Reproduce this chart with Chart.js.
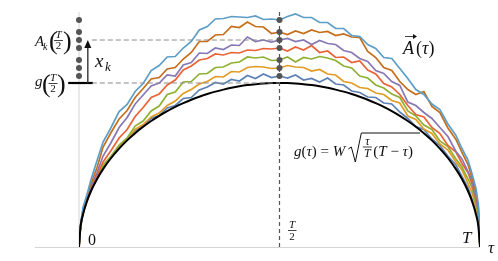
<!DOCTYPE html>
<html>
<head>
<meta charset="utf-8">
<script src="https://cdn.jsdelivr.net/npm/chart.js@4.4.1/dist/chart.umd.min.js"></script>
<style>
  html, body { margin: 0; padding: 0; background: #fff; }
  #wrap { width: 498px; height: 261px; }
</style>
</head>
<body>
<div id="wrap"><canvas id="myChart" width="498" height="261"></canvas></div>
<script>
// tau grid (T = 1)
const tau = [0, 0.004, 0.01, 0.02, 0.03, 0.045, 0.06, 0.08, 0.1, 0.12,
  0.14, 0.16, 0.18, 0.2, 0.22, 0.24, 0.26, 0.28, 0.3, 0.32,
  0.34, 0.36, 0.38, 0.4, 0.42, 0.44, 0.46, 0.48, 0.5, 0.52,
  0.54, 0.56, 0.58, 0.6, 0.62, 0.64, 0.66, 0.68, 0.7, 0.72,
  0.74, 0.76, 0.78, 0.8, 0.82, 0.84, 0.86, 0.88, 0.9, 0.92,
  0.94, 0.955, 0.97, 0.98, 0.99, 0.996, 1];

// lower boundary g(tau)
const gCurve = [0, 20.7, 32.6, 45.9, 56.0, 68.0, 77.9, 89.0, 98.4, 106.6,
  113.8, 120.2, 126.0, 131.2, 135.9, 140.1, 143.9, 147.3, 150.3, 153.0,
  155.4, 157.4, 159.2, 160.7, 161.9, 162.8, 163.5, 163.9, 164, 163.9,
  163.5, 162.8, 161.9, 160.7, 159.2, 157.4, 155.4, 153.0, 150.3, 147.3,
  143.9, 140.1, 135.9, 131.2, 126.0, 120.2, 113.8, 106.6, 98.4, 89.0,
  77.9, 68.0, 56.0, 45.9, 32.6, 20.7, 0];

// the seven walks A_k(tau), bottom to top
const walkBlue = [0, 21, 33.5, 46, 57, 68, 79.5, 89, 100, 107,
  116, 121, 128.5, 131.5, 139, 141.5, 148.5, 149.5, 157, 160,
  164.5, 163, 167.5, 166, 171.5, 168.5, 173, 169.5, 171, 169,
  172, 167, 168.5, 165, 169, 163, 162, 156, 154.5, 150,
  149.5, 144, 143, 135, 128.5, 120.5, 117.5, 108, 101.5, 91,
  82, 70.5, 59.5, 48, 35.5, 23, 0];
const walkOrange = [0, 21, 34, 46.5, 58, 69, 80.5, 90, 101, 108,
  117.5, 122.5, 130, 134, 141.5, 146, 153.5, 157.5, 163, 165.5,
  170.5, 170, 175.5, 175, 179.5, 180.5, 180, 178.5, 179, 181.5,
  180, 179.5, 176, 177.5, 173, 172, 165.5, 164, 159.5, 158.5,
  154, 152.5, 146.5, 144, 131, 127.5, 118, 113.5, 103, 97,
  85, 77, 63.5, 54.5, 40, 27, 0];
const walkGreen = [0, 21, 34.5, 47.5, 58.5, 70.5, 82, 91, 102, 109,
  121, 126, 136, 141, 152.5, 155, 165, 165.5, 173, 173.5,
  179.5, 180, 184, 185, 190, 189, 190, 186.5, 187, 190,
  185, 189.5, 188, 190.5, 189, 186.5, 181, 179, 171, 169,
  162, 159, 153, 149.5, 136, 131, 122, 117.5, 106, 100.5,
  88, 80, 68, 59.5, 43.5, 31, 0];
const walkRed = [0, 21.5, 35, 47.5, 59.5, 71.5, 85, 96.5, 109, 117.5,
  130.5, 139.5, 149.5, 153, 162, 167, 177, 181, 187, 188.5,
  193, 192, 194.5, 194, 197, 196.5, 198.5, 198, 199, 196,
  200, 197, 201.5, 194.5, 196, 189.5, 190, 184.5, 186, 177,
  173, 163.5, 160, 152.5, 141.5, 132.5, 130, 119.5, 113.5, 101.5,
  95, 83.5, 74.5, 63, 48, 34, 0];
const walkPurple = [0, 22, 35.5, 48.5, 60.5, 74.5, 91, 104.5, 119.5, 129.5,
  143, 152, 161, 164, 172, 171, 182, 184.5, 194, 193.5,
  199, 197.5, 202, 201.5, 210, 205.5, 207, 205, 207, 208.5,
  205.5, 207, 202.5, 206.5, 203.5, 202.5, 196.5, 194.5, 188.5, 185.5,
  176.5, 173.5, 165.5, 161.5, 145, 141.5, 134.5, 128.5, 119.5, 110.5,
  95.5, 88, 75.5, 66, 49.5, 36, 0];
const walkBrown = [0, 22.5, 36.5, 50.5, 63.5, 79.5, 100, 114.5, 128, 136.5,
  149.5, 158.5, 168, 169.5, 178, 179.5, 188, 194.5, 205.5, 205.5,
  212, 212.5, 220.5, 219.5, 225, 220.5, 220, 213.5, 215, 212.5,
  216, 213.5, 217, 214.5, 215.5, 211.5, 213, 210, 209.5, 195.5,
  189.5, 179.5, 176.5, 165.5, 157.5, 152.5, 155.5, 140.5, 134.5, 119,
  107.5, 94.5, 82.5, 69.5, 55, 39, 0];
const walkLightBlue = [0, 23, 39.5, 52.5, 67.5, 86.5, 105, 119.5, 135.5, 142.5,
  155.5, 163.5, 176.5, 181.5, 190, 190.5, 199, 205.5, 217, 220.5,
  228, 228.5, 230.5, 230, 229.5, 231, 227.5, 228, 227, 230.5,
  233, 229.5, 229.5, 224.5, 224.5, 218.5, 218.5, 211.5, 210.5, 202.5,
  198.5, 189.5, 188.5, 178.5, 168.5, 157.5, 152.5, 143, 137.5, 123,
  111.5, 98.5, 87, 73.5, 58.5, 42, 0];

const walks = [walkBlue, walkOrange, walkGreen, walkRed, walkPurple, walkBrown, walkLightBlue];
const walkColors = ['#5e81b5', '#e19c24', '#8fb032', '#eb6235', '#8778b3', '#c56e1a', '#5d9ec7'];

const halfIdx = tau.indexOf(0.5);
const kIndex = 4;          // the walk called A_k
const dashFrom = 0.032;    // where horizontal guides start
const barFrom = -0.027;    // short black bar at g(T/2)
const barTo = 0.035;
const arrowTau = 0.022;
const axisFrom = -0.11;

const toPoints = (ys) => tau.map((t, i) => ({ x: t, y: ys[i] }));

const gHalf = gCurve[halfIdx];
const aHalf = walks[kIndex][halfIdx];
const halfValues = walks.map(w => w[halfIdx]);

const datasets = [];

// dots at T/2 and their copy on the vertical axis
datasets.push({
    data: halfValues.map(v => ({ x: 0.5, y: v })).concat(halfValues.map(v => ({ x: 0, y: v }))),
    showLine: false, pointRadius: 3, pointBackgroundColor: '#555', pointBorderWidth: 0,
    order: 0, clip: false,
});
// vertical dashed guide at T/2
datasets.push({
    data: [{ x: 0.5, y: 0 }, { x: 0.5, y: 235 }],
    borderColor: '#555', borderWidth: 1.2, borderDash: [4, 3], pointRadius: 0, order: 1,
});
// horizontal guides
[gHalf, aHalf].forEach(v => datasets.push({
    data: [{ x: dashFrom, y: v }, { x: 0.5, y: v }],
    borderColor: '#8a8a8a', borderWidth: 1, borderDash: [5, 3], pointRadius: 0, order: 1,
}));
datasets.push({
    data: [{ x: barFrom, y: gHalf }, { x: barTo, y: gHalf }],
    borderColor: '#000', borderWidth: 2.2, pointRadius: 0, order: 1, clip: false,
});
// g(tau)
datasets.push({
    data: toPoints(gCurve), borderColor: '#000', borderWidth: 2,
    pointRadius: 0, cubicInterpolationMode: 'monotone', order: 2,
});
walks.forEach((w, i) => datasets.push({
    data: toPoints(w), borderColor: walkColors[i], borderWidth: 1.7,
    pointRadius: 0, tension: 0, order: 3 + (6 - i),
}));

const put = (ctx, txt, x, y, size, italic = true, align = 'left') => {
    ctx.font = `${italic ? 'italic ' : ''}${size}px "Liberation Serif", "DejaVu Serif", serif`;
    ctx.textAlign = align;
    ctx.textBaseline = 'alphabetic';
    ctx.fillText(txt, x, y);
    return ctx.measureText(txt).width;
};

const frac = (ctx, num, den, cx, barY, size, halfW) => {
    put(ctx, num, cx, barY - 2, size, true, 'center');
    put(ctx, den, cx, barY + size * 0.85, size, den !== '2', 'center');
    ctx.beginPath();
    ctx.moveTo(cx - halfW, barY + 0.5);
    ctx.lineTo(cx + halfW, barY + 0.5);
    ctx.stroke();
};

const decor = {
    id: 'decor',
    beforeDatasetsDraw(chart) {
        const { ctx, scales: { x, y } } = chart;
        ctx.save();
        ctx.strokeStyle = '#d4d4d4';
        ctx.lineWidth = 1;
        ctx.beginPath();
        ctx.moveTo(x.getPixelForValue(axisFrom), y.getPixelForValue(0) + 0.5);
        ctx.lineTo(x.getPixelForValue(1), y.getPixelForValue(0) + 0.5);
        ctx.moveTo(x.getPixelForValue(0), y.getPixelForValue(0));
        ctx.lineTo(x.getPixelForValue(0), y.getPixelForValue(235));
        ctx.stroke();
        ctx.restore();
    },
    afterDatasetsDraw(chart) {
        const { ctx, scales: { x, y } } = chart;
        ctx.save();
        ctx.fillStyle = '#111';
        ctx.strokeStyle = '#111';

        // arrow x_k
        const ax = x.getPixelForValue(arrowTau);
        const y0 = y.getPixelForValue(gHalf);
        const y1 = y.getPixelForValue(aHalf);
        ctx.strokeStyle = '#333';
        ctx.lineWidth = 1.4;
        ctx.beginPath();
        ctx.moveTo(ax, y0);
        ctx.lineTo(ax, y1 + 6);
        ctx.stroke();
        ctx.beginPath();
        ctx.moveTo(ax, y1);
        ctx.lineTo(ax - 3.5, y1 + 8);
        ctx.lineTo(ax + 3.5, y1 + 8);
        ctx.closePath();
        ctx.fill();

        ctx.strokeStyle = '#111';
        ctx.lineWidth = 0.8;

        // x_k
        put(ctx, 'x', 95, 67, 19);
        put(ctx, 'k', 105, 71, 13);

        // A_k(T/2)
        put(ctx, 'A', 35, 46, 15);
        put(ctx, 'k', 43, 50, 10);
        put(ctx, '(', 49, 49, 26, false);
        frac(ctx, 'T', '2', 58.5, 40, 11, 4.5);
        put(ctx, ')', 63, 49, 26, false);

        // g(T/2)
        put(ctx, 'g', 35, 86, 15);
        put(ctx, '(', 42, 92, 26, false);
        frac(ctx, 'T', '2', 53, 83, 11, 4.5);
        put(ctx, ')', 57, 92, 26, false);

        // A(tau) with vector arrow
        put(ctx, 'A', 403, 54, 18);
        ctx.beginPath();
        ctx.moveTo(405, 36.5);
        ctx.lineTo(416, 36.5);
        ctx.stroke();
        ctx.beginPath();
        ctx.moveTo(417, 36.5);
        ctx.lineTo(413, 34);
        ctx.lineTo(413, 39);
        ctx.closePath();
        ctx.fill();
        let vx = 416;
        vx += put(ctx, '(', vx, 54, 18, false);
        vx += put(ctx, 'τ', vx, 54, 18);
        put(ctx, ')', vx, 54, 18, false);

        // g(tau) = W sqrt(tau/T (T - tau))
        let cx = 294;
        cx += put(ctx, 'g', cx, 156, 15);
        cx += put(ctx, '(', cx, 156, 15, false);
        cx += put(ctx, 'τ', cx, 156, 15);
        cx += put(ctx, ') = ', cx, 156, 15, false);
        cx += put(ctx, 'W', cx, 156, 15);
        cx += 3;
        ctx.lineWidth = 1;
        ctx.beginPath();
        ctx.moveTo(cx, 149);
        ctx.lineTo(cx + 3, 147);
        ctx.lineTo(cx + 7, 162);
        ctx.lineTo(cx + 13, 133);
        ctx.lineTo(420, 133);
        ctx.stroke();
        ctx.lineWidth = 0.8;
        frac(ctx, 'τ', 'T', cx + 19, 146.5, 12, 4.5);
        let fx = cx + 25;
        fx += put(ctx, '(', fx, 156, 15, false);
        fx += put(ctx, 'T', fx, 156, 15);
        fx += put(ctx, ' − ', fx, 156, 15, false);
        fx += put(ctx, 'τ', fx, 156, 15);
        put(ctx, ')', fx, 156, 15, false);

        // axis labels
        put(ctx, '0', 88, 245, 16, false);
        put(ctx, 'T', 292, 228, 11, true, 'center');
        ctx.beginPath();
        ctx.moveTo(288, 230.5);
        ctx.lineTo(296.5, 230.5);
        ctx.stroke();
        put(ctx, '2', 292, 240, 11, false, 'center');
        put(ctx, 'T', 462, 243, 17);
        put(ctx, 'τ', 488, 253, 17);
        ctx.restore();
    },
};

new Chart('myChart', {
    type: 'line',
    data: { datasets },
    options: {
        responsive: false,
        animation: false,
        layout: { padding: { left: 79, right: 18, top: 10, bottom: 14 } },
        scales: {
            x: { type: 'linear', min: 0, max: 1, display: false },
            y: { type: 'linear', min: 0, max: 237, display: false },
        },
        plugins: { legend: { display: false }, tooltip: { enabled: false } },
    },
    plugins: [decor],
});
</script>
</body>
</html>
